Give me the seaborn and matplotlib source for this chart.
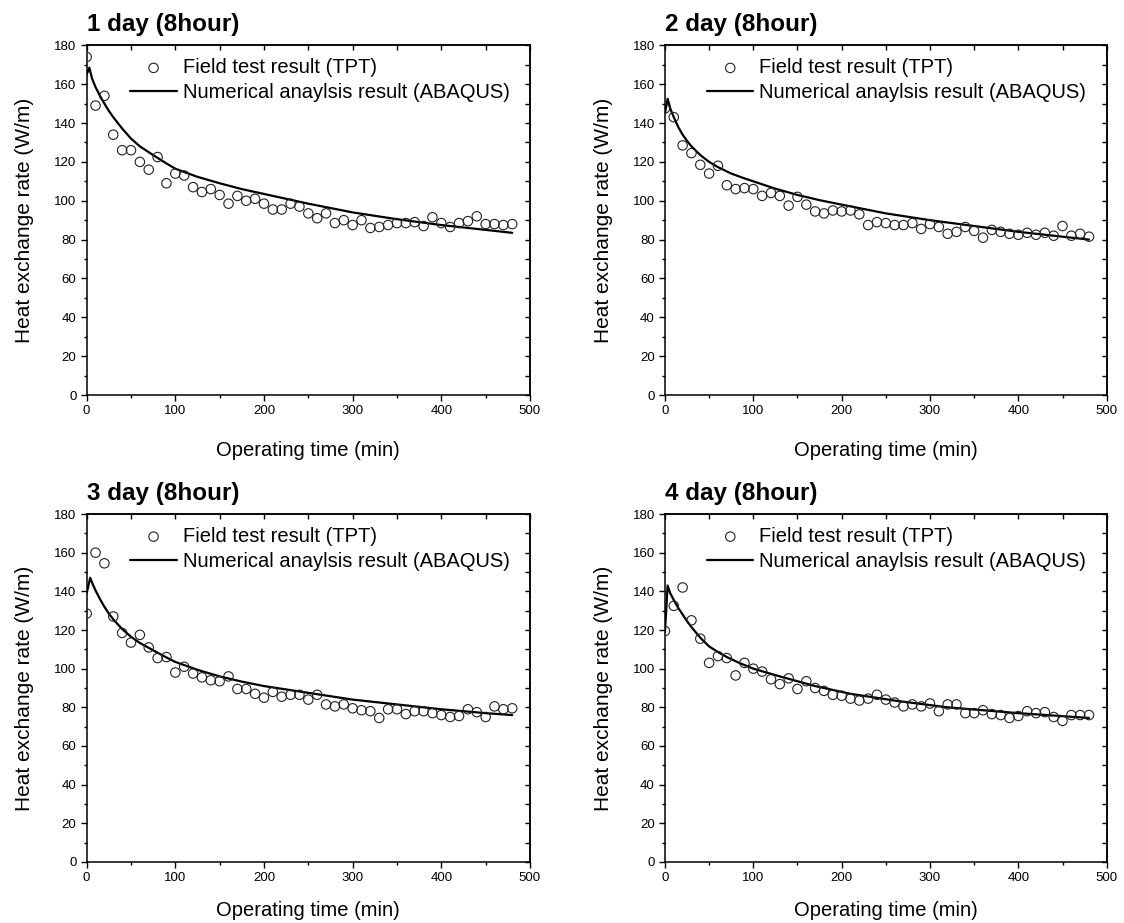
import matplotlib
matplotlib.use("Agg")
import matplotlib.pyplot as plt
import seaborn as sns
from matplotlib.ticker import MultipleLocator, NullFormatter

# ---------------- data ----------------
time_min = [0, 10, 20, 30, 40, 50, 60, 70, 80, 90, 100, 110, 120, 130, 140, 150,
            160, 170, 180, 190, 200, 210, 220, 230, 240, 250, 260, 270, 280, 290,
            300, 310, 320, 330, 340, 350, 360, 370, 380, 390, 400, 410, 420, 430,
            440, 450, 460, 470, 480]

day1_tpt = [174, 149, 154, 134, 126, 126, 120, 116, 122.5, 109, 114, 113, 107, 104.5,
            106, 103, 98.5, 102.5, 100, 101, 98.5, 95.5, 95.5, 98.5, 97, 93.5, 91, 93.5,
            88.5, 90, 87.5, 90, 86, 86.5, 87.5, 88.5, 88.5, 89, 87, 91.5, 88.5, 86.5,
            88.5, 89.5, 92, 88, 88, 87.5, 88]
day2_tpt = [147.5, 143, 128.5, 124.5, 118.5, 114, 118, 108, 106, 106.5, 106, 102.5, 104,
            102.5, 97.5, 102, 98, 94.5, 93.5, 95, 94.5, 95, 93, 87.5, 89, 88.5, 87.5, 87.5,
            88.5, 85.5, 88, 86.5, 83, 84, 86.5, 84.5, 81, 85, 84, 83, 82.5, 83.5, 82.5,
            83.5, 82, 87, 82, 83, 81.5]
day3_tpt = [128.5, 160, 154.5, 127, 118.5, 113.5, 117.5, 111, 105.5, 106, 98, 101, 97.5,
            95.5, 94, 93.5, 96, 89.5, 89.5, 87, 85, 88, 85.5, 86.5, 86.5, 84, 86.5, 81.5,
            80.5, 81.5, 79.5, 78.5, 78, 74.5, 79, 79, 76.5, 78, 78, 77, 76, 75, 75.5, 79,
            77.5, 75, 80.5, 79, 79.5]
day4_tpt = [119.5, 132.5, 142, 125, 115.5, 103, 106.5, 105.5, 96.5, 103, 100, 98.5, 94.5,
            92, 95, 89.5, 93.5, 90, 88.5, 86.5, 86, 84.5, 83.5, 84.5, 86.5, 84, 82.5, 80.5,
            81.5, 80.5, 82, 78, 81.5, 81.5, 77, 77, 78.5, 76.5, 76, 74.5, 75.5, 78, 77,
            77.5, 75, 73, 76, 76, 76]

day1_sim_t = [0, 3, 6, 10, 15, 20, 25, 30, 40, 50, 60, 75, 90, 100, 125, 150, 175, 200,
              250, 300, 350, 400, 450, 480]
day1_sim_v = [165, 168.5, 163, 158.5, 154, 150, 146.3, 143, 137.2, 132, 128, 123.5, 119.2,
              116.5, 112.3, 109, 106, 103.5, 98.5, 94, 90.5, 87.5, 85, 83.5]
day2_sim_t = [0, 3, 6, 10, 15, 20, 25, 30, 40, 50, 60, 75, 90, 100, 125, 150, 175, 200,
              250, 300, 350, 400, 450, 480]
day2_sim_v = [145, 152.5, 147.5, 143, 138, 134, 130.8, 128, 123.5, 120, 117.3, 114, 111.5,
              110, 106.2, 103, 100.3, 98, 93.5, 90, 87, 84, 81.5, 80]
day3_sim_t = [0, 4, 7, 10, 15, 20, 25, 30, 40, 50, 60, 75, 90, 100, 125, 150, 175, 200,
              250, 300, 350, 400, 450, 480]
day3_sim_v = [139, 147, 143.5, 140.5, 136, 132, 128.5, 125.5, 120.5, 116.5, 113.3, 109.5,
              105.8, 103.5, 99.4, 96, 93.3, 91, 87.5, 84, 81.5, 79, 77, 76]
day4_sim_t = [0, 3, 6, 10, 15, 20, 25, 30, 40, 50, 60, 70, 85, 100, 130, 170, 210, 260,
              320, 400, 480]
day4_sim_v = [119, 143, 139, 135.5, 131.5, 128, 124.6, 121.5, 116, 111.5, 108.6, 106,
              102.8, 100, 96, 91, 87, 83.5, 80, 77, 74.5]

titles = ["1 day (8hour)", "2 day (8hour)", "3 day (8hour)", "4 day (8hour)"]
legend_labels = ["Field test result (TPT)", "Numerical anaylsis result (ABAQUS)"]
x_label = "Operating time (min)"
y_label = "Heat exchange rate (W/m)"

tpt_series = [day1_tpt, day2_tpt, day3_tpt, day4_tpt]
sim_series = [(day1_sim_t, day1_sim_v), (day2_sim_t, day2_sim_v),
              (day3_sim_t, day3_sim_v), (day4_sim_t, day4_sim_v)]

# ---------------- style ----------------
sns.set_style("ticks", {"axes.edgecolor": "black", "xtick.color": "black",
                        "ytick.color": "black", "text.color": "black",
                        "axes.labelcolor": "black"})
plt.rcParams["font.family"] = ["Liberation Sans", "DejaVu Sans"]

fig = plt.figure(figsize=(11.24, 9.23), dpi=100)
positions = [
    [0.0771, 0.5720, 0.3944, 0.3789],
    [0.5916, 0.5720, 0.3930, 0.3789],
    [0.0771, 0.0661, 0.3944, 0.3770],
    [0.5916, 0.0661, 0.3930, 0.3770],
]
xlabel_y = [-0.13, -0.13, -0.113, -0.113]

for i in range(4):
    ax = fig.add_axes(positions[i])
    sns.scatterplot(x=time_min, y=tpt_series[i], ax=ax, marker="o", s=46,
                    legend=False, label=legend_labels[0], zorder=3)
    pts = ax.collections[-1]
    pts.set_facecolor("none")
    pts.set_edgecolor("#222222")
    pts.set_linewidth(0.8)
    st, sv = sim_series[i]
    sns.lineplot(x=st, y=sv, ax=ax, color="black", lw=1.6, legend=False,
                 label=legend_labels[1], zorder=2)
    line = ax.lines[-1]

    ax.set_xlim(0, 500)
    ax.set_ylim(0, 180)
    ax.xaxis.set_major_locator(MultipleLocator(100))
    ax.xaxis.set_minor_locator(MultipleLocator(50))
    ax.yaxis.set_major_locator(MultipleLocator(20))
    ax.yaxis.set_minor_locator(MultipleLocator(10))
    ax.tick_params(which="both", direction="out", top=False, right=False,
                   width=1, labelsize=9.5, pad=3.0, colors="black")
    ax.tick_params(which="major", length=4.3)
    ax.tick_params(which="minor", length=2.4)
    for sp in ax.spines.values():
        sp.set_linewidth(1.1)
        sp.set_color("black")

    sx = ax.secondary_xaxis("top")
    sx.xaxis.set_major_locator(MultipleLocator(50))
    sx.xaxis.set_major_formatter(NullFormatter())
    sx.tick_params(which="both", direction="in", length=3.6, width=1)
    sx.spines["top"].set_linewidth(1.1)
    sy = ax.secondary_yaxis("right")
    sy.yaxis.set_major_locator(MultipleLocator(10))
    sy.yaxis.set_major_formatter(NullFormatter())
    sy.tick_params(which="both", direction="in", length=3.6, width=1)
    sy.spines["right"].set_linewidth(1.1)

    ax.set_xlabel(x_label, fontsize=14.5)
    ax.set_ylabel(y_label, fontsize=15)
    ax.xaxis.set_label_coords(0.5, xlabel_y[i])
    ax.yaxis.set_label_coords(-0.118, 0.5)

    ax.text(0, 1.04, titles[i], transform=ax.transAxes, ha="left", va="baseline",
            fontsize=17.5, fontweight="bold")

    ax.legend(handles=[pts, line], labels=legend_labels, loc="upper right",
              frameon=False, fontsize=14.5, handlelength=2.3, handletextpad=0.3,
              labelspacing=0.3, borderaxespad=0.5, borderpad=0.4,
              bbox_to_anchor=(0.995, 1.015))

fig.savefig("out.png", dpi=100)
